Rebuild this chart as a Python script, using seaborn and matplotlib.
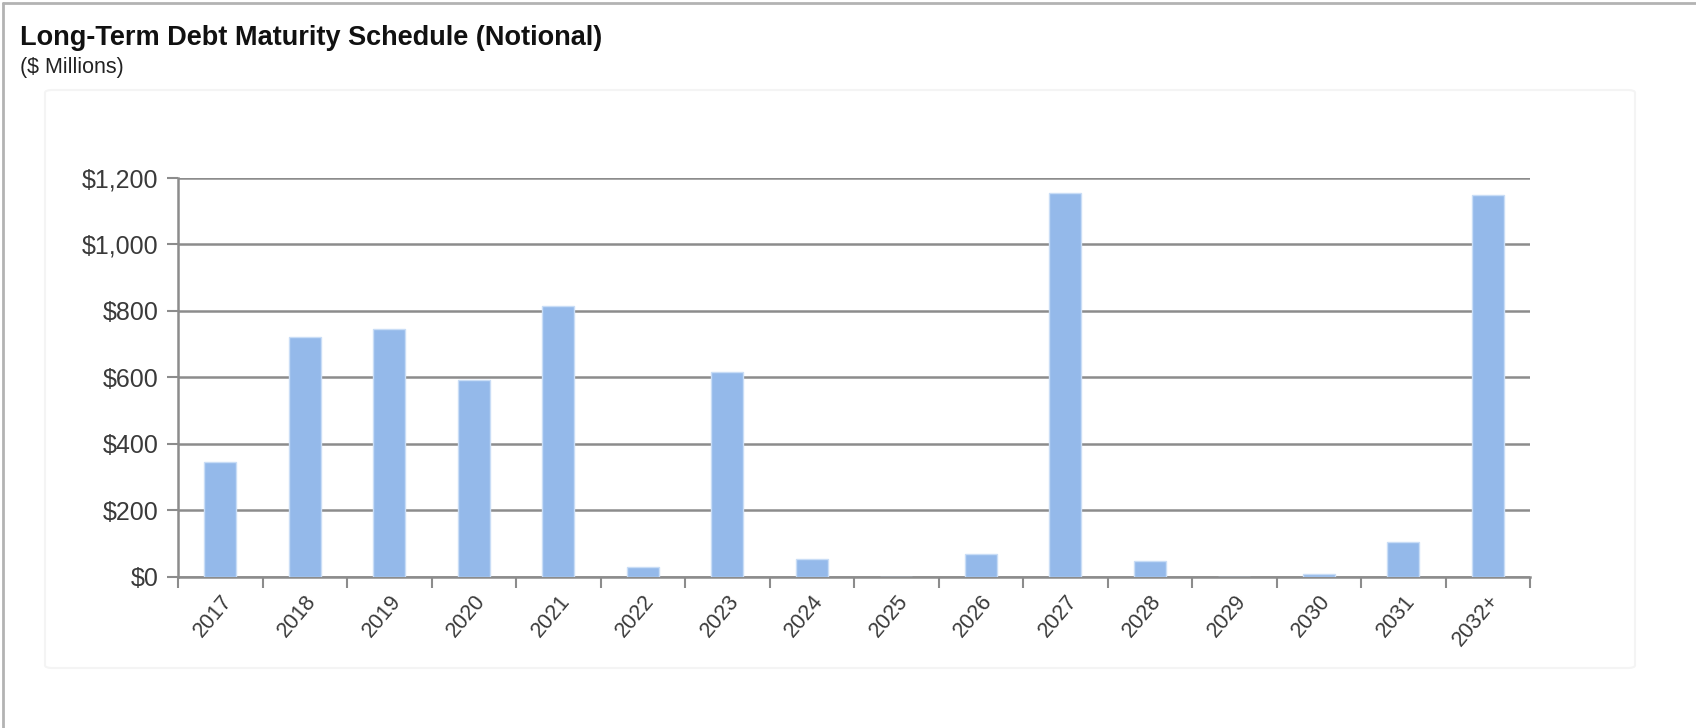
import matplotlib
matplotlib.use("Agg")
import matplotlib.pyplot as plt
from matplotlib.patches import FancyBboxPatch
from matplotlib.lines import Line2D
from matplotlib.ticker import FuncFormatter
import seaborn as sns
import pandas as pd

# Dati (milioni di $)
years = ["2017", "2018", "2019", "2020", "2021", "2022", "2023", "2024",
         "2025", "2026", "2027", "2028", "2029", "2030", "2031", "2032+"]
maturities = [346, 722, 746, 592, 815, 30, 615, 52,
              0, 68, 1155, 48, 0, 8, 105, 1150]
y_ticks = [0, 200, 400, 600, 800, 1000, 1200]

title = "Long-Term Debt Maturity Schedule (Notional)"
subtitle = "($ Millions)"

sns.set_theme(style="white")
plt.rcParams['font.family'] = ['Liberation Sans', 'DejaVu Sans']

df = pd.DataFrame({"year": years, "value": maturities})

fig = plt.figure(figsize=(16.96, 7.28), dpi=100)

# bordo esterno
fig.add_artist(Line2D([0.002, 0.002], [0, 0.996], transform=fig.transFigure,
                      color="#b3b3b3", lw=2))
fig.add_artist(Line2D([0.002, 1.0], [0.996, 0.996], transform=fig.transFigure,
                      color="#b3b3b3", lw=2))

# pannello leggero attorno al grafico
panel = FancyBboxPatch((45 / 1696, 1 - 668 / 728), (1635 - 45) / 1696, (668 - 90) / 728,
                       boxstyle="round,pad=0,rounding_size=0.004",
                       transform=fig.transFigure, facecolor="white",
                       edgecolor="#f4f4f4", lw=1.5, zorder=-5)
fig.add_artist(panel)

# titoli
fig.text(20 / 1696, 1 - 38 / 728, title, fontsize=19.5, fontweight="bold",
         color="#111111", va="center", ha="left")
fig.text(20 / 1696, 1 - 68 / 728, subtitle, fontsize=15.5,
         color="#222222", va="center", ha="left")

ax = fig.add_axes([178 / 1696, 1 - 576.7 / 728, (1530 - 178) / 1696, (576.7 - 178) / 728])
ax.set_facecolor("none")

sns.barplot(data=df, x="year", y="value", color="#94b9ea", width=0.38,
            saturation=1, edgecolor="#c9ddf6", linewidth=1, ax=ax, zorder=3)

ax.set_ylim(0, 1200)
ax.set_xlim(-0.5, len(years) - 0.5)
ax.set_yticks(y_ticks)
ax.yaxis.set_major_formatter(FuncFormatter(lambda v, p: f"${v:,.0f}"))
ax.grid(axis="y", color="#8c8c8c", lw=1.8, zorder=1)
ax.grid(axis="x", visible=False)
ax.set_axisbelow(True)

for s in ["top", "right"]:
    ax.spines[s].set_visible(False)
for s in ["left", "bottom"]:
    ax.spines[s].set_color("#8c8c8c")
    ax.spines[s].set_linewidth(1.8)

# tick x ai bordi delle categorie
ax.set_xticks([i - 0.5 for i in range(len(years) + 1)], minor=True)
ax.tick_params(axis="x", which="minor", bottom=True, length=8, width=1.5,
               color="#8c8c8c", direction="out")
ax.tick_params(axis="x", which="major", length=0, pad=10)
ax.tick_params(axis="y", left=True, length=8, width=1.5, color="#8c8c8c",
               direction="out", pad=6)
ax.set_xticks(range(len(years)))
ax.set_xticklabels(years, rotation=50, ha="right", rotation_mode="anchor",
                   fontsize=15.5, color="#3a3a3a")
for lbl in ax.get_yticklabels():
    lbl.set_fontsize(18)
    lbl.set_color("#3a3a3a")

ax.set_xlabel("")
ax.set_ylabel("")

fig.savefig("out.png", dpi=100)
